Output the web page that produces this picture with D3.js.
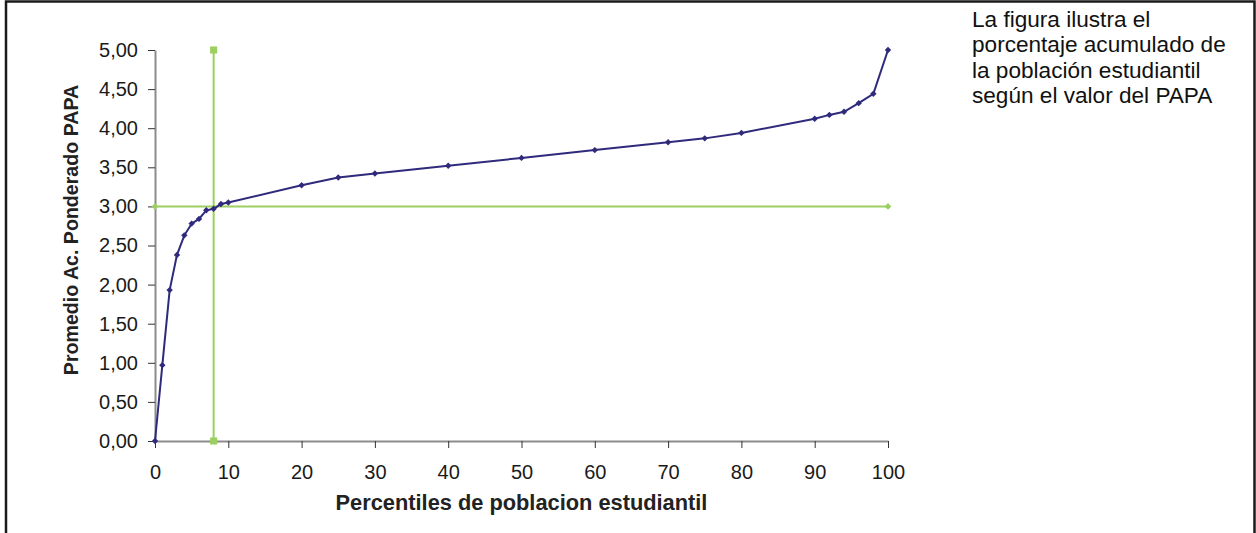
<!DOCTYPE html>
<html>
<head>
<meta charset="utf-8">
<script src="https://cdn.jsdelivr.net/npm/d3@7/dist/d3.min.js"></script>
<style>
  html, body { margin: 0; padding: 0; background: #fff; }
  svg { display: block; }
  text { font-family: "Liberation Sans", Arial, sans-serif; }
</style>
</head>
<body>
<svg id="chart" width="1256" height="533"></svg>
<script>
// ---- data ----
const percentiles = [0, 1, 2, 3, 4, 5, 6, 7, 8, 9, 10, 20, 25, 30, 40, 50, 60, 70, 75, 80, 90, 92, 94, 96, 98, 100];
const papa = [0, 0.97, 1.93, 2.38, 2.63, 2.78, 2.84, 2.95, 2.97, 3.03, 3.05, 3.27, 3.37, 3.42, 3.52, 3.62, 3.72, 3.82, 3.87, 3.94, 4.12, 4.17, 4.21, 4.32, 4.44, 5.00];
const refLineH = { xs: [0, 100], ys: [3, 3] };     // horizontal reference at PAPA 3,00
const refLineV = { xs: [8, 8], ys: [0, 5] };       // vertical reference at percentile 8
const xTicks = [0, 10, 20, 30, 40, 50, 60, 70, 80, 90, 100];
const yTicks = [0, 0.5, 1, 1.5, 2, 2.5, 3, 3.5, 4, 4.5, 5];
const xTitle = "Percentiles de poblacion estudiantil";
const yTitle = "Promedio Ac. Ponderado PAPA";
const noteLines = ["La figura ilustra el", "porcentaje acumulado de", "la población estudiantil", "según el valor del PAPA"];

// ---- drawing ----
const svg = d3.select("#chart");
const navy = "#2f2a7c";
const green = "#9bcf5f";
const axisGray = "#8c8c8c";

// outer frame (bottom is outside the view)
svg.append("path")
  .attr("d", "M6,540 V1.5 H1254.5 V540")
  .attr("fill", "none").attr("stroke", "#1a1a1a").attr("stroke-width", 2.5);

const x = d3.scaleLinear().domain([0, 100]).range([155, 888]);
const y = d3.scaleLinear().domain([0, 5]).range([441, 50]);

const fmt = v => d3.format(".2f")(v).replace(".", ",");

// y axis
const yAxis = svg.append("g").attr("transform", `translate(${x(0)},0)`)
  .call(d3.axisLeft(y).tickValues(yTicks).tickFormat(fmt).tickSize(7).tickPadding(10).tickSizeOuter(0));
yAxis.select(".domain").attr("stroke", axisGray).attr("stroke-width", 2);
yAxis.selectAll(".tick line").attr("stroke", "#333").attr("stroke-width", 1);
yAxis.selectAll(".tick text").attr("font-size", 20).attr("fill", "#1a1a1a")
  .attr("font-family", "'Liberation Sans', Arial, sans-serif");

// x axis
const xAxis = svg.append("g").attr("transform", `translate(0,${y(0)})`)
  .call(d3.axisBottom(x).tickValues(xTicks).tickFormat(d3.format("d")).tickSize(7).tickPadding(17).tickSizeOuter(0));
xAxis.select(".domain").attr("stroke", axisGray).attr("stroke-width", 2);
xAxis.selectAll(".tick line").attr("stroke", "#333").attr("stroke-width", 1);
xAxis.selectAll(".tick text").attr("font-size", 20).attr("fill", "#1a1a1a")
  .attr("font-family", "'Liberation Sans', Arial, sans-serif");

// axis titles
svg.append("text")
  .attr("x", (x(0) + x(100)) / 2).attr("y", 510)
  .attr("text-anchor", "middle").attr("font-weight", "bold").attr("font-size", 21.8).attr("fill", "#222")
  .text(xTitle);
svg.append("text")
  .attr("transform", `translate(78,230) rotate(-90)`)
  .attr("text-anchor", "middle").attr("font-weight", "bold").attr("font-size", 19.6).attr("fill", "#222")
  .text(yTitle);

// reference lines
const line = d3.line().x(d => x(d[0])).y(d => y(d[1]));
const hPts = refLineH.xs.map((v, i) => [v, refLineH.ys[i]]);
const vPts = refLineV.xs.map((v, i) => [v, refLineV.ys[i]]);

svg.append("path").datum(hPts).attr("d", line)
  .attr("fill", "none").attr("stroke", green).attr("stroke-width", 2);
svg.selectAll(".hmark").data(hPts).join("path").attr("class", "hmark")
  .attr("transform", d => `translate(${x(d[0])},${y(d[1])})`)
  .attr("d", d3.symbol(d3.symbolDiamond2, 28)).attr("fill", green);

svg.append("path").datum(vPts).attr("d", line)
  .attr("fill", "none").attr("stroke", green).attr("stroke-width", 2);
svg.selectAll(".vmark").data(vPts).join("path").attr("class", "vmark")
  .attr("transform", d => `translate(${x(d[0])},${y(d[1])})`)
  .attr("d", d3.symbol(d3.symbolSquare, 50)).attr("fill", green);

// main series
const pts = percentiles.map((p, i) => [p, papa[i]]);
svg.append("path").datum(pts).attr("d", line)
  .attr("fill", "none").attr("stroke", navy).attr("stroke-width", 2);
svg.selectAll(".mark").data(pts).join("path").attr("class", "mark")
  .attr("transform", d => `translate(${x(d[0])},${y(d[1])})`)
  .attr("d", d3.symbol(d3.symbolDiamond2, 26)).attr("fill", navy);

// note text
svg.append("text").attr("x", 972).attr("y", 27)
  .attr("font-size", 22.6).attr("fill", "#111")
  .selectAll("tspan").data(noteLines).join("tspan")
  .attr("x", 972).attr("dy", (d, i) => i === 0 ? 0 : 25.3)
  .text(d => d);
</script>
</body>
</html>
